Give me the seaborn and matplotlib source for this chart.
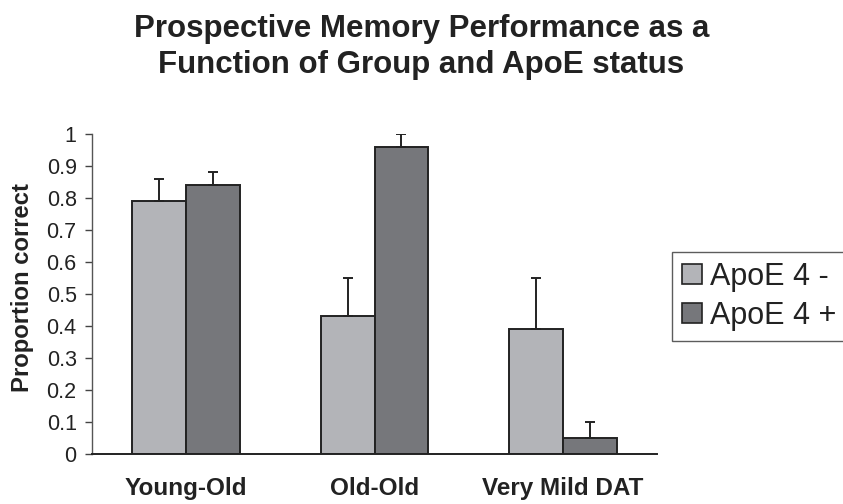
import matplotlib
matplotlib.use("Agg")
import matplotlib.pyplot as plt
from matplotlib.patches import Patch
import seaborn as sns
import pandas as pd

# Study groups and ApoE status
groups = ["Young-Old", "Old-Old", "Very Mild DAT"]
statuses = ["ApoE 4 -", "ApoE 4 +"]

# Mean proportion correct and upper error for each group/status
apoe_neg = [0.79, 0.43, 0.39]
apoe_pos = [0.84, 0.96, 0.05]
err_neg = [0.07, 0.12, 0.16]
err_pos = [0.04, 0.04, 0.05]

y_ticks = [0, 0.1, 0.2, 0.3, 0.4, 0.5, 0.6, 0.7, 0.8, 0.9, 1]
y_tick_labels = ["0", "0.1", "0.2", "0.3", "0.4", "0.5", "0.6", "0.7", "0.8", "0.9", "1"]

colors = {"ApoE 4 -": "#b3b4b8", "ApoE 4 +": "#76777b"}

df = pd.DataFrame({
    "group": groups * 2,
    "status": [statuses[0]] * 3 + [statuses[1]] * 3,
    "value": apoe_neg + apoe_pos,
    "err": err_neg + err_pos,
})

sns.set_theme(style="white")
plt.rcParams["font.family"] = ["Liberation Sans", "DejaVu Sans"]

fig = plt.figure(figsize=(8.43, 5.04), dpi=100)
ax = fig.add_axes([92 / 843, 1 - 454 / 504, 565 / 843, 320 / 504])

sns.barplot(data=df, x="group", y="value", hue="status", order=groups,
            hue_order=statuses, palette=colors, width=0.573, errorbar=None,
            edgecolor="#222222", linewidth=1.4, saturation=1, ax=ax,
            legend=False)

# upward-only error bars centred on each bar
for container, status in zip(ax.containers, statuses):
    errs = df[df["status"] == status].set_index("group").loc[groups, "err"].values
    for bar, e in zip(container.patches, errs):
        cx = bar.get_x() + bar.get_width() / 2
        top = bar.get_height()
        ax.errorbar(cx, top, yerr=[[0], [e]], fmt="none", ecolor="#222222",
                    elinewidth=1.4, capsize=3.6, capthick=1.4, zorder=3)

ax.set_xlim(-0.5, 2.5)
ax.set_ylim(0, 1)
ax.set_yticks(y_ticks)
ax.set_yticklabels(y_tick_labels, fontsize=15.5, color="#222222")
ax.tick_params(axis="y", which="major", left=True, length=5, width=1.0,
               color="#444444", pad=6)
ax.tick_params(axis="x", bottom=False, length=0, pad=16.5)
for lbl in ax.get_xticklabels():
    lbl.set_fontsize(17.5)
    lbl.set_fontweight("bold")
    lbl.set_color("#222222")

for side in ["top", "right"]:
    ax.spines[side].set_visible(False)
ax.spines["left"].set_color("#555555")
ax.spines["left"].set_linewidth(1.0)
ax.spines["bottom"].set_color("#222222")
ax.spines["bottom"].set_linewidth(1.4)

ax.set_xlabel("")
ax.set_ylabel("Proportion correct", fontsize=17.2, fontweight="bold",
              color="#222222")
ax.yaxis.set_label_coords(-(92 - 34) / 565, (454 - 288) / 320)

fig.text(0.5, 1 - 47 / 504, "Prospective Memory Performance as a\nFunction of Group and ApoE status",
         ha="center", va="center", fontsize=22.5, fontweight="bold",
         color="#222222", linespacing=1.25)

handles = [Patch(facecolor=colors[s], edgecolor="#222222", linewidth=1.2, label=s)
           for s in statuses]
leg = fig.legend(handles=handles, loc="upper left",
                 bbox_to_anchor=(672 / 843, 1 - 252 / 504), fontsize=22,
                 frameon=True, fancybox=False, handlelength=0.65,
                 handleheight=0.65, handletextpad=0.26, borderpad=0.32,
                 labelspacing=0.3, borderaxespad=0)
leg.get_frame().set_edgecolor("#333333")
leg.get_frame().set_linewidth(1.0)
for t in leg.get_texts():
    t.set_color("#222222")

fig.savefig("out.png", dpi=100)
